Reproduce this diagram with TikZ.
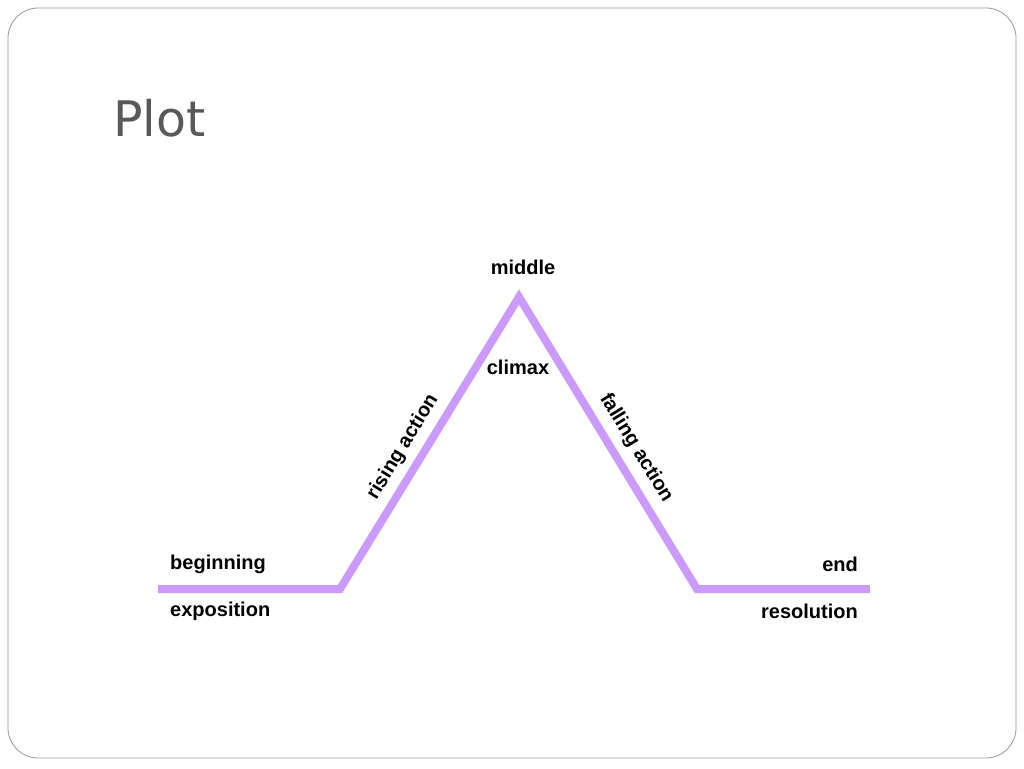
\documentclass[tikz,border=0pt]{standalone}
\usepackage{fontspec}
\setmainfont{Liberation Sans}
\newfontfamily\titlefont{DejaVu Sans}
\definecolor{lav}{HTML}{CC99FF}
\definecolor{ttl}{HTML}{595959}
\begin{document}
\begin{tikzpicture}[x=1pt,y=-1pt,
  lbl/.style={font=\fontsize{20}{22}\selectfont\bfseries,inner sep=0pt}]
\useasboundingbox (0,0) rectangle (1024,768);
\fill[white] (0,0) rectangle (1024,768);
\draw[gray!80,line width=0.8pt,rounded corners=30pt] (8,8) rectangle (1016,758);
\node[anchor=base west,inner sep=0pt,text=ttl,font=\titlefont\fontsize{49}{54}\selectfont] (title) at (113,136) {Plot};
\coordinate (a) at (158,589);
\coordinate (b) at (340,589);
\coordinate (c) at (519,297);
\coordinate (d) at (697,589);
\coordinate (e) at (870,589);
\draw[lav,line width=8pt,line join=miter] (a) -- (b) -- (c) -- (d) -- (e);
\node[lbl] (mid) at (523,267) {middle};
\node[lbl] (clx) at (518,367) {climax};
\node[lbl,anchor=west] (beg) at (170,564) {beginning};
\node[lbl,anchor=west] (exp) at (170,611) {exposition};
\node[lbl,anchor=east] (end) at (858,564) {end};
\node[lbl,anchor=east] (res) at (858,611) {resolution};
\node[lbl,rotate=58.6] (ris) at (403,447) {rising action};
\node[lbl,rotate=-58.6] (fal) at (636,448) {falling action};
\end{tikzpicture}
\end{document}
